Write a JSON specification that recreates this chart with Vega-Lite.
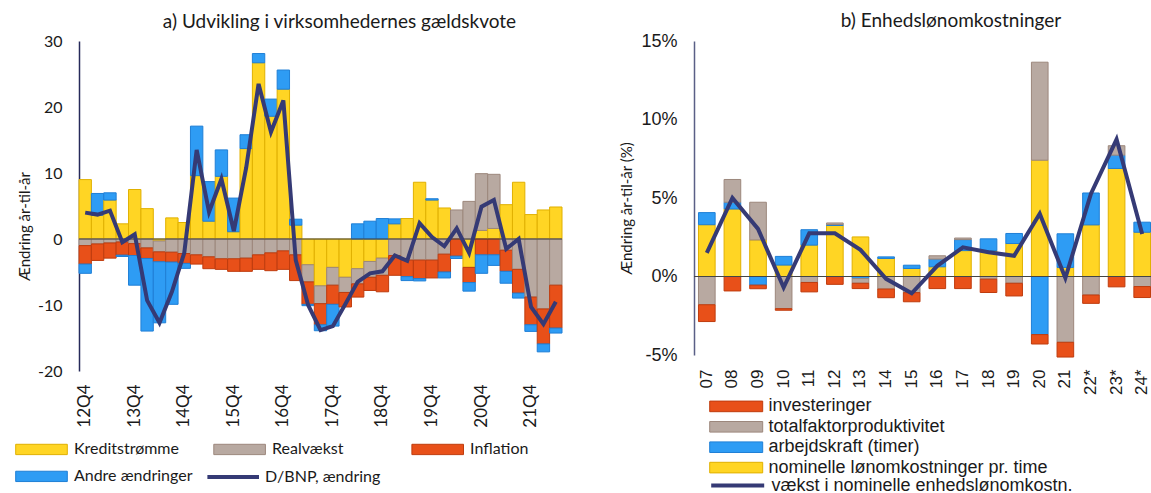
{
"$schema": "https://vega.github.io/schema/vega-lite/v6.json",
"background": "white",
"padding": {"left": 17, "top": 12, "right": 0, "bottom": 0},
"spacing": 55,
"config": {"view": {"stroke": null}, "axis": {"grid": false, "ticks": false, "tickSize": 0}},
"datasets": {
"aBars": [
{"q":"12Q4","s":"Kreditstrømme","v":9.0,"rank":1},{"q":"12Q4","s":"Realvækst","v":-1.0,"rank":2},{"q":"12Q4","s":"Inflation","v":-2.8,"rank":3},{"q":"12Q4","s":"Andre ændringer","v":-1.4,"rank":4},
{"q":"13Q1","s":"Kreditstrømme","v":3.6,"rank":1},{"q":"13Q1","s":"Realvækst","v":-0.75,"rank":2},{"q":"13Q1","s":"Inflation","v":-2.5,"rank":3},{"q":"13Q1","s":"Andre ændringer","v":3.3,"rank":4},
{"q":"13Q2","s":"Kreditstrømme","v":5.9,"rank":1},{"q":"13Q2","s":"Realvækst","v":-0.6,"rank":2},{"q":"13Q2","s":"Inflation","v":-2.3,"rank":3},{"q":"13Q2","s":"Andre ændringer","v":1.1,"rank":4},
{"q":"13Q3","s":"Kreditstrømme","v":2.3,"rank":1},{"q":"13Q3","s":"Realvækst","v":-0.45,"rank":2},{"q":"13Q3","s":"Inflation","v":-2.0,"rank":3},{"q":"13Q3","s":"Andre ændringer","v":-0.2,"rank":4},
{"q":"13Q4","s":"Kreditstrømme","v":7.5,"rank":1},{"q":"13Q4","s":"Realvækst","v":-0.7,"rank":2},{"q":"13Q4","s":"Inflation","v":-1.8,"rank":3},{"q":"13Q4","s":"Andre ændringer","v":-4.5,"rank":4},
{"q":"14Q1","s":"Kreditstrømme","v":4.6,"rank":1},{"q":"14Q1","s":"Realvækst","v":-1.35,"rank":2},{"q":"14Q1","s":"Inflation","v":-1.6,"rank":3},{"q":"14Q1","s":"Andre ændringer","v":-11.0,"rank":4},
{"q":"14Q2","s":"Kreditstrømme","v":-0.3,"rank":1},{"q":"14Q2","s":"Realvækst","v":-1.65,"rank":2},{"q":"14Q2","s":"Inflation","v":-1.5,"rank":3},{"q":"14Q2","s":"Andre ændringer","v":-9.25,"rank":4},
{"q":"14Q3","s":"Kreditstrømme","v":3.2,"rank":1},{"q":"14Q3","s":"Realvækst","v":-2.0,"rank":2},{"q":"14Q3","s":"Inflation","v":-1.5,"rank":3},{"q":"14Q3","s":"Andre ændringer","v":-6.4,"rank":4},
{"q":"14Q4","s":"Kreditstrømme","v":2.5,"rank":1},{"q":"14Q4","s":"Realvækst","v":-2.2,"rank":2},{"q":"14Q4","s":"Inflation","v":-1.5,"rank":3},{"q":"14Q4","s":"Andre ændringer","v":-0.75,"rank":4},
{"q":"15Q1","s":"Kreditstrømme","v":9.6,"rank":1},{"q":"15Q1","s":"Realvækst","v":-2.4,"rank":2},{"q":"15Q1","s":"Inflation","v":-1.4,"rank":3},{"q":"15Q1","s":"Andre ændringer","v":7.5,"rank":4},
{"q":"15Q2","s":"Kreditstrømme","v":2.7,"rank":1},{"q":"15Q2","s":"Realvækst","v":-2.7,"rank":2},{"q":"15Q2","s":"Inflation","v":-1.8,"rank":3},{"q":"15Q2","s":"Andre ændringer","v":6.0,"rank":4},
{"q":"15Q3","s":"Kreditstrømme","v":9.5,"rank":1},{"q":"15Q3","s":"Realvækst","v":-3.0,"rank":2},{"q":"15Q3","s":"Inflation","v":-1.6,"rank":3},{"q":"15Q3","s":"Andre ændringer","v":4.0,"rank":4},
{"q":"15Q4","s":"Kreditstrømme","v":1.1,"rank":1},{"q":"15Q4","s":"Realvækst","v":-3.0,"rank":2},{"q":"15Q4","s":"Inflation","v":-1.9,"rank":3},{"q":"15Q4","s":"Andre ændringer","v":5.1,"rank":4},
{"q":"16Q1","s":"Kreditstrømme","v":13.7,"rank":1},{"q":"16Q1","s":"Realvækst","v":-2.9,"rank":2},{"q":"16Q1","s":"Inflation","v":-2.0,"rank":3},{"q":"16Q1","s":"Andre ændringer","v":2.1,"rank":4},
{"q":"16Q2","s":"Kreditstrømme","v":26.7,"rank":1},{"q":"16Q2","s":"Realvækst","v":-2.4,"rank":2},{"q":"16Q2","s":"Inflation","v":-2.2,"rank":3},{"q":"16Q2","s":"Andre ændringer","v":1.4,"rank":4},
{"q":"16Q3","s":"Kreditstrømme","v":18.6,"rank":1},{"q":"16Q3","s":"Realvækst","v":-2.1,"rank":2},{"q":"16Q3","s":"Inflation","v":-2.7,"rank":3},{"q":"16Q3","s":"Andre ændringer","v":2.6,"rank":4},
{"q":"16Q4","s":"Kreditstrømme","v":22.7,"rank":1},{"q":"16Q4","s":"Realvækst","v":-1.8,"rank":2},{"q":"16Q4","s":"Inflation","v":-2.8,"rank":3},{"q":"16Q4","s":"Andre ændringer","v":2.9,"rank":4},
{"q":"17Q1","s":"Kreditstrømme","v":2.1,"rank":1},{"q":"17Q1","s":"Realvækst","v":-2.4,"rank":2},{"q":"17Q1","s":"Inflation","v":-3.9,"rank":3},{"q":"17Q1","s":"Andre ændringer","v":0.9,"rank":4},
{"q":"17Q2","s":"Kreditstrømme","v":-3.9,"rank":1},{"q":"17Q2","s":"Realvækst","v":-2.6,"rank":2},{"q":"17Q2","s":"Inflation","v":-3.4,"rank":3},{"q":"17Q2","s":"Andre ændringer","v":-0.2,"rank":4},
{"q":"17Q3","s":"Kreditstrømme","v":-7.1,"rank":1},{"q":"17Q3","s":"Realvækst","v":-2.7,"rank":2},{"q":"17Q3","s":"Inflation","v":-3.2,"rank":3},{"q":"17Q3","s":"Andre ændringer","v":-0.9,"rank":4},
{"q":"17Q4","s":"Kreditstrømme","v":-4.3,"rank":1},{"q":"17Q4","s":"Realvækst","v":-2.7,"rank":2},{"q":"17Q4","s":"Inflation","v":-2.9,"rank":3},{"q":"17Q4","s":"Andre ændringer","v":-3.3,"rank":4},
{"q":"18Q1","s":"Kreditstrømme","v":-5.8,"rank":1},{"q":"18Q1","s":"Realvækst","v":-2.3,"rank":2},{"q":"18Q1","s":"Inflation","v":-2.2,"rank":3},
{"q":"18Q2","s":"Kreditstrømme","v":-4.5,"rank":1},{"q":"18Q2","s":"Realvækst","v":-2.3,"rank":2},{"q":"18Q2","s":"Inflation","v":-2.0,"rank":3},{"q":"18Q2","s":"Andre ændringer","v":2.3,"rank":4},
{"q":"18Q3","s":"Kreditstrømme","v":-3.4,"rank":1},{"q":"18Q3","s":"Realvækst","v":-2.4,"rank":2},{"q":"18Q3","s":"Inflation","v":-2.0,"rank":3},{"q":"18Q3","s":"Andre ændringer","v":2.7,"rank":4},
{"q":"18Q4","s":"Kreditstrømme","v":-2.9,"rank":1},{"q":"18Q4","s":"Realvækst","v":-2.6,"rank":2},{"q":"18Q4","s":"Inflation","v":-2.5,"rank":3},{"q":"18Q4","s":"Andre ændringer","v":3.1,"rank":4},
{"q":"19Q1","s":"Kreditstrømme","v":2.3,"rank":1},{"q":"19Q1","s":"Realvækst","v":-2.5,"rank":2},{"q":"19Q1","s":"Inflation","v":-3.0,"rank":3},{"q":"19Q1","s":"Andre ændringer","v":0.75,"rank":4},
{"q":"19Q2","s":"Kreditstrømme","v":3.1,"rank":1},{"q":"19Q2","s":"Realvækst","v":-3.2,"rank":2},{"q":"19Q2","s":"Inflation","v":-2.5,"rank":3},{"q":"19Q2","s":"Andre ændringer","v":-0.6,"rank":4},
{"q":"19Q3","s":"Kreditstrømme","v":8.6,"rank":1},{"q":"19Q3","s":"Realvækst","v":-3.2,"rank":2},{"q":"19Q3","s":"Inflation","v":-2.8,"rank":3},{"q":"19Q3","s":"Andre ændringer","v":-0.35,"rank":4},
{"q":"19Q4","s":"Kreditstrømme","v":5.9,"rank":1},{"q":"19Q4","s":"Realvækst","v":-3.2,"rank":2},{"q":"19Q4","s":"Inflation","v":-2.7,"rank":3},{"q":"19Q4","s":"Andre ændringer","v":0.2,"rank":4},
{"q":"20Q1","s":"Kreditstrømme","v":4.7,"rank":1},{"q":"20Q1","s":"Realvækst","v":-2.3,"rank":2},{"q":"20Q1","s":"Inflation","v":-2.7,"rank":3},{"q":"20Q1","s":"Andre ændringer","v":-0.9,"rank":4},
{"q":"20Q2","s":"Realvækst","v":4.4,"rank":2},{"q":"20Q2","s":"Inflation","v":-2.6,"rank":3},{"q":"20Q2","s":"Andre ændringer","v":-0.35,"rank":4},
{"q":"20Q3","s":"Kreditstrømme","v":-4.3,"rank":1},{"q":"20Q3","s":"Realvækst","v":5.7,"rank":2},{"q":"20Q3","s":"Inflation","v":-2.3,"rank":3},{"q":"20Q3","s":"Andre ændringer","v":-1.3,"rank":4},
{"q":"20Q4","s":"Kreditstrømme","v":1.3,"rank":1},{"q":"20Q4","s":"Realvækst","v":8.6,"rank":2},{"q":"20Q4","s":"Inflation","v":-2.4,"rank":3},{"q":"20Q4","s":"Andre ændringer","v":-2.8,"rank":4},
{"q":"21Q1","s":"Kreditstrømme","v":1.6,"rank":1},{"q":"21Q1","s":"Realvækst","v":8.2,"rank":2},{"q":"21Q1","s":"Inflation","v":-2.4,"rank":3},{"q":"21Q1","s":"Andre ændringer","v":-1.6,"rank":4},
{"q":"21Q2","s":"Kreditstrømme","v":5.2,"rank":1},{"q":"21Q2","s":"Realvækst","v":-1.7,"rank":2},{"q":"21Q2","s":"Inflation","v":-3.2,"rank":3},{"q":"21Q2","s":"Andre ændringer","v":-1.8,"rank":4},
{"q":"21Q3","s":"Kreditstrømme","v":8.6,"rank":1},{"q":"21Q3","s":"Realvækst","v":-4.6,"rank":2},{"q":"21Q3","s":"Inflation","v":-3.6,"rank":3},{"q":"21Q3","s":"Andre ændringer","v":-0.75,"rank":4},
{"q":"21Q4","s":"Kreditstrømme","v":3.7,"rank":1},{"q":"21Q4","s":"Realvækst","v":-8.8,"rank":2},{"q":"21Q4","s":"Inflation","v":-4.2,"rank":3},{"q":"21Q4","s":"Andre ændringer","v":-1.0,"rank":4},
{"q":"22Q1","s":"Kreditstrømme","v":4.4,"rank":1},{"q":"22Q1","s":"Realvækst","v":-10.6,"rank":2},{"q":"22Q1","s":"Inflation","v":-5.3,"rank":3},{"q":"22Q1","s":"Andre ændringer","v":-1.2,"rank":4},
{"q":"22Q2","s":"Kreditstrømme","v":4.85,"rank":1},{"q":"22Q2","s":"Realvækst","v":-7.0,"rank":2},{"q":"22Q2","s":"Inflation","v":-6.5,"rank":3},{"q":"22Q2","s":"Andre ændringer","v":-0.75,"rank":4}
],
"aLine": [
{"q":"12Q4","s":"D/BNP, ændring","v":4.0},{"q":"13Q1","s":"D/BNP, ændring","v":3.7},{"q":"13Q2","s":"D/BNP, ændring","v":4.3},{"q":"13Q3","s":"D/BNP, ændring","v":-0.5},
{"q":"13Q4","s":"D/BNP, ændring","v":0.7},{"q":"14Q1","s":"D/BNP, ændring","v":-9.3},{"q":"14Q2","s":"D/BNP, ændring","v":-12.7},{"q":"14Q3","s":"D/BNP, ændring","v":-8.0},
{"q":"14Q4","s":"D/BNP, ændring","v":-2.1},{"q":"15Q1","s":"D/BNP, ændring","v":13.5},{"q":"15Q2","s":"D/BNP, ændring","v":4.1},{"q":"15Q3","s":"D/BNP, ændring","v":9.1},
{"q":"15Q4","s":"D/BNP, ændring","v":1.2},{"q":"16Q1","s":"D/BNP, ændring","v":10.8},{"q":"16Q2","s":"D/BNP, ændring","v":23.5},{"q":"16Q3","s":"D/BNP, ændring","v":16.2},
{"q":"16Q4","s":"D/BNP, ændring","v":21.0},{"q":"17Q1","s":"D/BNP, ændring","v":-3.2},{"q":"17Q2","s":"D/BNP, ændring","v":-10.0},{"q":"17Q3","s":"D/BNP, ændring","v":-13.8},
{"q":"17Q4","s":"D/BNP, ændring","v":-13.2},{"q":"18Q1","s":"D/BNP, ændring","v":-9.9},{"q":"18Q2","s":"D/BNP, ændring","v":-6.5},{"q":"18Q3","s":"D/BNP, ændring","v":-5.2},
{"q":"18Q4","s":"D/BNP, ændring","v":-4.9},{"q":"19Q1","s":"D/BNP, ændring","v":-2.5},{"q":"19Q2","s":"D/BNP, ændring","v":-3.3},{"q":"19Q3","s":"D/BNP, ændring","v":2.4},
{"q":"19Q4","s":"D/BNP, ændring","v":0.3},{"q":"20Q1","s":"D/BNP, ændring","v":-1.1},{"q":"20Q2","s":"D/BNP, ændring","v":1.6},{"q":"20Q3","s":"D/BNP, ændring","v":-2.1},
{"q":"20Q4","s":"D/BNP, ændring","v":4.9},{"q":"21Q1","s":"D/BNP, ændring","v":5.9},{"q":"21Q2","s":"D/BNP, ændring","v":-1.5},{"q":"21Q3","s":"D/BNP, ændring","v":0.0},
{"q":"21Q4","s":"D/BNP, ændring","v":-10.3},{"q":"22Q1","s":"D/BNP, ændring","v":-12.9},{"q":"22Q2","s":"D/BNP, ændring","v":-9.5}
],
"bBars": [
{"y":"07","s":"nominelle lønomkostninger pr. time","v":3.3,"rank":1},{"y":"07","s":"arbejdskraft (timer)","v":0.77,"rank":2},{"y":"07","s":"totalfaktorproduktivitet","v":-1.8,"rank":3},{"y":"07","s":"investeringer","v":-1.07,"rank":4},
{"y":"08","s":"nominelle lønomkostninger pr. time","v":4.3,"rank":1},{"y":"08","s":"arbejdskraft (timer)","v":0.43,"rank":2},{"y":"08","s":"totalfaktorproduktivitet","v":1.45,"rank":3},{"y":"08","s":"investeringer","v":-0.92,"rank":4},
{"y":"09","s":"nominelle lønomkostninger pr. time","v":2.33,"rank":1},{"y":"09","s":"arbejdskraft (timer)","v":-0.55,"rank":2},{"y":"09","s":"totalfaktorproduktivitet","v":2.4,"rank":3},{"y":"09","s":"investeringer","v":-0.23,"rank":4},
{"y":"10","s":"nominelle lønomkostninger pr. time","v":0.73,"rank":1},{"y":"10","s":"arbejdskraft (timer)","v":0.55,"rank":2},{"y":"10","s":"totalfaktorproduktivitet","v":-2.05,"rank":3},{"y":"10","s":"investeringer","v":-0.1,"rank":4},
{"y":"11","s":"nominelle lønomkostninger pr. time","v":2.0,"rank":1},{"y":"11","s":"arbejdskraft (timer)","v":0.98,"rank":2},{"y":"11","s":"totalfaktorproduktivitet","v":-0.38,"rank":3},{"y":"11","s":"investeringer","v":-0.6,"rank":4},
{"y":"12","s":"nominelle lønomkostninger pr. time","v":3.25,"rank":1},{"y":"12","s":"arbejdskraft (timer)","v":0.06,"rank":2},{"y":"12","s":"totalfaktorproduktivitet","v":0.1,"rank":3},{"y":"12","s":"investeringer","v":-0.5,"rank":4},
{"y":"13","s":"nominelle lønomkostninger pr. time","v":2.52,"rank":1},{"y":"13","s":"arbejdskraft (timer)","v":-0.13,"rank":2},{"y":"13","s":"totalfaktorproduktivitet","v":-0.3,"rank":3},{"y":"13","s":"investeringer","v":-0.34,"rank":4},
{"y":"14","s":"nominelle lønomkostninger pr. time","v":1.15,"rank":1},{"y":"14","s":"arbejdskraft (timer)","v":0.1,"rank":2},{"y":"14","s":"totalfaktorproduktivitet","v":-0.8,"rank":3},{"y":"14","s":"investeringer","v":-0.55,"rank":4},
{"y":"15","s":"nominelle lønomkostninger pr. time","v":0.51,"rank":1},{"y":"15","s":"arbejdskraft (timer)","v":0.21,"rank":2},{"y":"15","s":"totalfaktorproduktivitet","v":-1.03,"rank":3},{"y":"15","s":"investeringer","v":-0.58,"rank":4},
{"y":"16","s":"nominelle lønomkostninger pr. time","v":0.62,"rank":1},{"y":"16","s":"arbejdskraft (timer)","v":0.49,"rank":2},{"y":"16","s":"totalfaktorproduktivitet","v":0.21,"rank":3},{"y":"16","s":"investeringer","v":-0.77,"rank":4},
{"y":"17","s":"nominelle lønomkostninger pr. time","v":1.65,"rank":1},{"y":"17","s":"arbejdskraft (timer)","v":0.7,"rank":2},{"y":"17","s":"totalfaktorproduktivitet","v":0.1,"rank":3},{"y":"17","s":"investeringer","v":-0.77,"rank":4},
{"y":"18","s":"nominelle lønomkostninger pr. time","v":1.65,"rank":1},{"y":"18","s":"arbejdskraft (timer)","v":0.75,"rank":2},{"y":"18","s":"totalfaktorproduktivitet","v":-0.17,"rank":3},{"y":"18","s":"investeringer","v":-0.85,"rank":4},
{"y":"19","s":"nominelle lønomkostninger pr. time","v":2.1,"rank":1},{"y":"19","s":"arbejdskraft (timer)","v":0.64,"rank":2},{"y":"19","s":"totalfaktorproduktivitet","v":-0.43,"rank":3},{"y":"19","s":"investeringer","v":-0.81,"rank":4},
{"y":"20","s":"nominelle lønomkostninger pr. time","v":7.41,"rank":1},{"y":"20","s":"arbejdskraft (timer)","v":-3.7,"rank":2},{"y":"20","s":"totalfaktorproduktivitet","v":6.24,"rank":3},{"y":"20","s":"investeringer","v":-0.6,"rank":4},
{"y":"21","s":"nominelle lønomkostninger pr. time","v":0.58,"rank":1},{"y":"21","s":"arbejdskraft (timer)","v":2.14,"rank":2},{"y":"21","s":"totalfaktorproduktivitet","v":-4.19,"rank":3},{"y":"21","s":"investeringer","v":-0.94,"rank":4},
{"y":"22*","s":"nominelle lønomkostninger pr. time","v":3.29,"rank":1},{"y":"22*","s":"arbejdskraft (timer)","v":2.03,"rank":2},{"y":"22*","s":"totalfaktorproduktivitet","v":-1.18,"rank":3},{"y":"22*","s":"investeringer","v":-0.53,"rank":4},
{"y":"23*","s":"nominelle lønomkostninger pr. time","v":6.88,"rank":1},{"y":"23*","s":"arbejdskraft (timer)","v":0.85,"rank":2},{"y":"23*","s":"totalfaktorproduktivitet","v":0.6,"rank":3},{"y":"23*","s":"investeringer","v":-0.66,"rank":4},
{"y":"24*","s":"nominelle lønomkostninger pr. time","v":2.82,"rank":1},{"y":"24*","s":"arbejdskraft (timer)","v":0.64,"rank":2},{"y":"24*","s":"totalfaktorproduktivitet","v":-0.64,"rank":3},{"y":"24*","s":"investeringer","v":-0.7,"rank":4}
],
"bLine": [
{"y":"07","s":"vækst i nominelle enhedslønomkostn.","v":1.5},{"y":"08","s":"vækst i nominelle enhedslønomkostn.","v":5.0},{"y":"09","s":"vækst i nominelle enhedslønomkostn.","v":3.03},
{"y":"10","s":"vækst i nominelle enhedslønomkostn.","v":-0.7},{"y":"11","s":"vækst i nominelle enhedslønomkostn.","v":2.75},{"y":"12","s":"vækst i nominelle enhedslønomkostn.","v":2.75},
{"y":"13","s":"vækst i nominelle enhedslønomkostn.","v":1.7},{"y":"14","s":"vækst i nominelle enhedslønomkostn.","v":-0.15},{"y":"15","s":"vækst i nominelle enhedslønomkostn.","v":-1.07},
{"y":"16","s":"vækst i nominelle enhedslønomkostn.","v":0.68},{"y":"17","s":"vækst i nominelle enhedslønomkostn.","v":1.86},{"y":"18","s":"vækst i nominelle enhedslønomkostn.","v":1.54},
{"y":"19","s":"vækst i nominelle enhedslønomkostn.","v":1.32},{"y":"20","s":"vækst i nominelle enhedslønomkostn.","v":4.0},{"y":"21","s":"vækst i nominelle enhedslønomkostn.","v":-0.1},
{"y":"22*","s":"vækst i nominelle enhedslønomkostn.","v":5.28},{"y":"23*","s":"vækst i nominelle enhedslønomkostn.","v":8.74},{"y":"24*","s":"vækst i nominelle enhedslønomkostn.","v":2.71}
],
"zero": [{"v": 0}]
},
"hconcat": [
{
"width": 483, "height": 330,
"title": {"text": "a) Udvikling i virksomhedernes gældskvote", "font": "Lato", "fontSize": 19, "fontWeight": "normal", "color": "#1a1a1a", "anchor": "middle", "dx": 19, "offset": 1},
"layer": [
{
"data": {"name": "aBars"},
"mark": {"type": "bar", "strokeWidth": 1},
"encoding": {
"x": {"field": "q", "type": "ordinal", "title": null,
 "scale": {"domain": ["12Q4","13Q1","13Q2","13Q3","13Q4","14Q1","14Q2","14Q3","14Q4","15Q1","15Q2","15Q3","15Q4","16Q1","16Q2","16Q3","16Q4","17Q1","17Q2","17Q3","17Q4","18Q1","18Q2","18Q3","18Q4","19Q1","19Q2","19Q3","19Q4","20Q1","20Q2","20Q3","20Q4","21Q1","21Q2","21Q3","21Q4","22Q1","22Q2"], "paddingInner": 0, "paddingOuter": 0},
 "axis": {"title": null, "values": ["12Q4","13Q4","14Q4","15Q4","16Q4","17Q4","18Q4","19Q4","20Q4","21Q4"], "labelAngle": -90, "labelFont": "Lato", "labelFontSize": 17, "labelColor": "#1a1a1a", "labelPadding": 13, "domain": false, "ticks": false}},
"y": {"field": "v", "type": "quantitative", "stack": "zero", "title": "Ændring år-til-år",
 "scale": {"domain": [-20, 30], "nice": false, "zero": false},
 "axis": {"values": [-20, -10, 0, 10, 20, 30], "labelExpr": "'' + datum.value", "labelFont": "Lato", "labelFontSize": 16, "labelColor": "#1a1a1a", "labelPadding": 17, "domainColor": "#262a5a", "domainWidth": 1.5, "ticks": false,
  "title": "Ændring år-til-år", "titleFont": "Lato", "titleFontSize": 15, "titleFontWeight": "normal", "titleColor": "#1a1a1a", "titleAngle": 270, "titleAlign": "center", "titleBaseline": "middle", "titleX": -55, "titleY": 185}},
"fill": {"field": "s", "type": "nominal",
 "scale": {"domain": ["Kreditstrømme", "Realvækst", "Inflation", "Andre ændringer"], "range": ["#FFD524", "#B8A9A1", "#E85019", "#2E9CF4"]},
 "legend": {"title": null, "orient": "none", "legendX": -47, "legendY": 398.7, "direction": "horizontal", "columns": 3, "gridAlign": "all", "columnPadding": 18.1, "rowPadding": 9.2, "padding": 0,
  "symbolType": "M-3,-0.6H3V0.6H-3Z", "symbolSize": 296, "symbolOpacity": 1, "labelOffset": 22.9, "labelFont": "Lato", "labelFontSize": 16, "labelColor": "#1a1a1a", "labelLimit": 300,
  "encode": {"symbols": {"update": {"strokeWidth": {"value": 1}, "stroke": [
   {"test": "datum.value === 'Kreditstrømme'", "value": "#E0B000"},
   {"test": "datum.value === 'Realvækst'", "value": "#9C877C"},
   {"test": "datum.value === 'Inflation'", "value": "#BF3C0E"},
   {"value": "#1F7FD6"}]}}}}},
"stroke": {"field": "s", "type": "nominal",
 "scale": {"domain": ["Kreditstrømme", "Realvækst", "Inflation", "Andre ændringer"], "range": ["#E0B000", "#9C877C", "#BF3C0E", "#1F7FD6"]},
 "legend": null},
"order": {"field": "rank", "type": "quantitative", "sort": "ascending"}
}
},
{
"data": {"name": "zero"},
"mark": {"type": "rule", "color": "#444", "strokeWidth": 1.2},
"encoding": {"y": {"field": "v", "type": "quantitative", "title": "Ændring år-til-år"}}
},
{
"data": {"name": "aLine"},
"mark": {"type": "line", "strokeWidth": 4},
"encoding": {
"x": {"field": "q", "type": "ordinal", "title": null},
"y": {"field": "v", "type": "quantitative", "title": "Ændring år-til-år"},
"color": {"field": "s", "type": "nominal", "scale": {"range": ["#353A75"]},
 "legend": {"title": null, "orient": "none", "legendX": 143.2, "legendY": 425.1, "padding": 0,
  "symbolType": "M-3,0H3", "symbolSize": 296, "symbolStrokeWidth": 4, "labelOffset": 20.9, "labelFont": "Lato", "labelFontSize": 16, "labelColor": "#1a1a1a"}}
}
}
]
},
{
"width": 461, "height": 314,
"title": {"text": "b) Enhedslønomkostninger", "font": "Lato", "fontSize": 19, "fontWeight": "normal", "color": "#1a1a1a", "anchor": "middle", "dx": 26.5, "offset": 1},
"layer": [
{
"data": {"name": "bBars"},
"mark": {"type": "bar", "strokeWidth": 1},
"encoding": {
"x": {"field": "y", "type": "ordinal", "title": null,
 "scale": {"domain": ["07","08","09","10","11","12","13","14","15","16","17","18","19","20","21","22*","23*","24*"], "paddingInner": 0.35, "paddingOuter": 0.175},
 "axis": {"title": null, "labelAngle": -90, "labelFont": "Liberation Sans", "labelFontSize": 17, "labelColor": "#1a1a1a", "labelPadding": 14, "domain": false, "ticks": false}},
"y": {"field": "v", "type": "quantitative", "stack": "zero", "title": "Ændring år-til-år (%)",
 "scale": {"domain": [-5, 15], "nice": false, "zero": false},
 "axis": {"values": [-5, 0, 5, 10, 15], "labelExpr": "datum.value + '%'", "labelFont": "Liberation Sans", "labelFontSize": 18, "labelColor": "#1a1a1a", "labelPadding": 17, "domainColor": "#5a5f86", "domainWidth": 1.5, "ticks": false,
  "title": "Ændring år-til-år (%)", "titleFont": "Lato", "titleFontSize": 15, "titleFontWeight": "normal", "titleColor": "#1a1a1a", "titleAngle": 270, "titleAlign": "center", "titleBaseline": "middle", "titleX": -68, "titleY": 167}},
"fill": {"field": "s", "type": "nominal",
 "scale": {"domain": ["investeringer", "totalfaktorproduktivitet", "arbejdskraft (timer)", "nominelle lønomkostninger pr. time"], "range": ["#E85019", "#B8A9A1", "#2E9CF4", "#FFD524"]},
 "legend": {"title": null, "orient": "none", "legendX": 32.7, "legendY": 355.9, "direction": "vertical", "columns": 1, "rowPadding": 1.4, "padding": 0,
  "symbolType": "M-3,-0.6H3V0.6H-3Z", "symbolSize": 312, "symbolOpacity": 1, "labelOffset": 22.7, "labelFont": "Liberation Sans", "labelFontSize": 18, "labelColor": "#1a1a1a", "labelLimit": 400,
  "encode": {"symbols": {"update": {"strokeWidth": {"value": 1}, "stroke": [
   {"test": "datum.value === 'investeringer'", "value": "#BF3C0E"},
   {"test": "datum.value === 'totalfaktorproduktivitet'", "value": "#9C877C"},
   {"test": "datum.value === 'arbejdskraft (timer)'", "value": "#1F7FD6"},
   {"value": "#E0B000"}]}}}}},
"stroke": {"field": "s", "type": "nominal",
 "scale": {"domain": ["investeringer", "totalfaktorproduktivitet", "arbejdskraft (timer)", "nominelle lønomkostninger pr. time"], "range": ["#BF3C0E", "#9C877C", "#1F7FD6", "#E0B000"]},
 "legend": null},
"order": {"field": "rank", "type": "quantitative", "sort": "ascending"}
}
},
{
"data": {"name": "zero"},
"mark": {"type": "rule", "color": "#444", "strokeWidth": 1.2},
"encoding": {"y": {"field": "v", "type": "quantitative", "title": "Ændring år-til-år (%)"}}
},
{
"data": {"name": "bLine"},
"mark": {"type": "line", "strokeWidth": 4},
"encoding": {
"x": {"field": "y", "type": "ordinal", "title": null},
"y": {"field": "v", "type": "quantitative", "title": "Ændring år-til-år (%)"},
"color": {"field": "s", "type": "nominal", "scale": {"range": ["#353A75"]},
 "legend": {"title": null, "orient": "none", "legendX": 32.7, "legendY": 433.5, "padding": 0,
  "symbolType": "M-3,0H3", "symbolSize": 312, "symbolStrokeWidth": 4, "labelOffset": 22.7, "labelFont": "Liberation Sans", "labelFontSize": 18, "labelColor": "#1a1a1a", "labelLimit": 400}}
}
}
]
}
],
"resolve": {"scale": {"color": "independent", "fill": "independent", "stroke": "independent", "x": "independent", "y": "independent"}, "legend": {"color": "independent", "fill": "independent"}}
}
